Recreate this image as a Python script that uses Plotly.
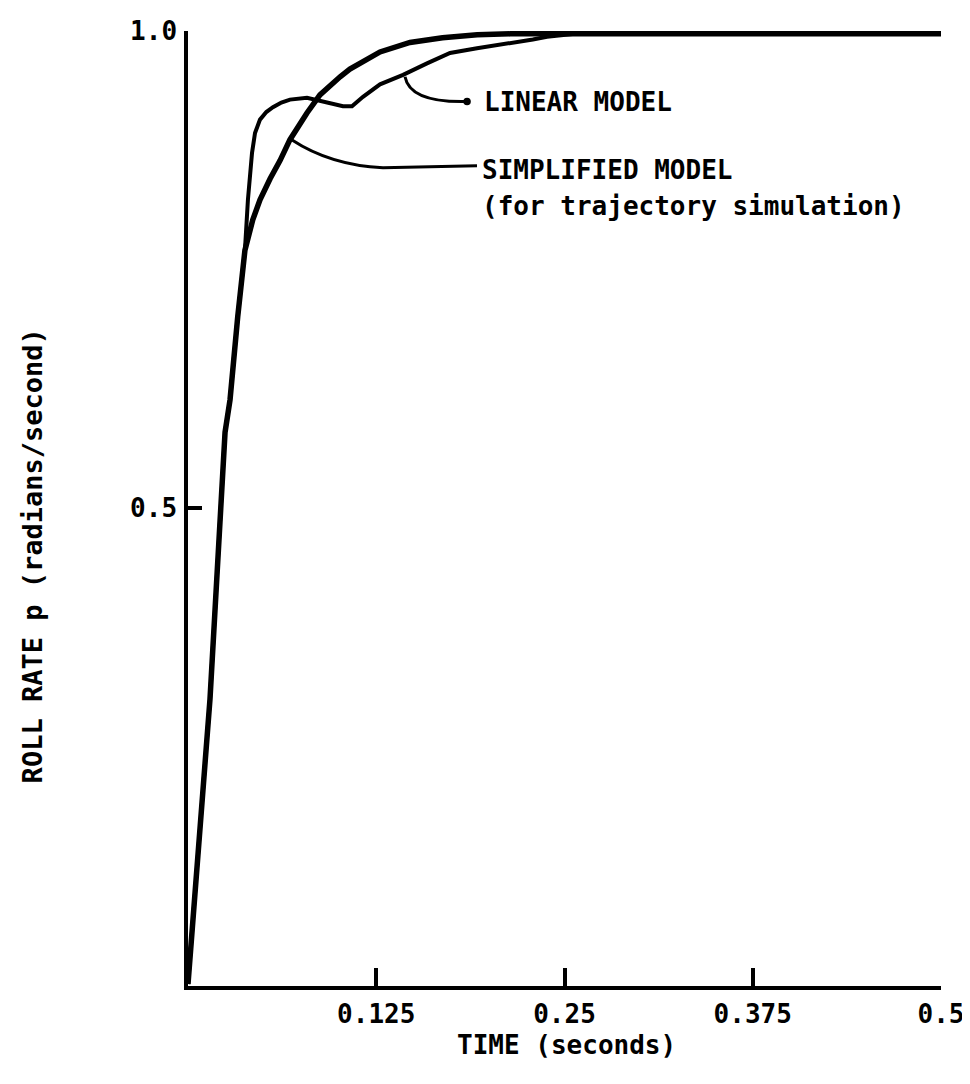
import plotly.graph_objects as go

# Time (s) and roll rate p (rad/s)
t_simplified = [0.0, 0.0146, 0.0246, 0.0279, 0.0330, 0.0378, 0.0430, 0.0478, 0.0545, 0.0611,
                0.0677, 0.0735, 0.079, 0.0876, 0.094, 0.101, 0.1075, 0.1142, 0.1275, 0.1474,
                0.169, 0.192, 0.214, 0.26, 0.35, 0.5]
p_simplified = [0.0, 0.299, 0.579, 0.613, 0.700, 0.770, 0.802, 0.823, 0.845, 0.864,
                0.886, 0.901, 0.914, 0.933, 0.943, 0.952, 0.960, 0.966, 0.978, 0.988,
                0.993, 0.996, 0.997, 0.997, 0.997, 0.997]

t_linear = [0.0, 0.0146, 0.0246, 0.0279, 0.0330, 0.0378, 0.0398, 0.0425, 0.0445, 0.0478,
            0.0520, 0.0564, 0.0620, 0.0677, 0.079, 0.0896, 0.1029, 0.1089, 0.1162, 0.1275,
            0.1428, 0.1587, 0.174, 0.1919, 0.2138, 0.229, 0.2384, 0.257, 0.35, 0.5]
p_linear = [0.0, 0.299, 0.579, 0.613, 0.700, 0.770, 0.823, 0.872, 0.893, 0.907,
            0.915, 0.920, 0.925, 0.928, 0.930, 0.926, 0.921, 0.921, 0.931, 0.944,
            0.954, 0.966, 0.977, 0.982, 0.987, 0.991, 0.994, 0.997, 0.997, 0.997]

x_tickvals = [0.125, 0.25, 0.375, 0.5]
x_ticktext = ["0.125", "0.25", "0.375", "0.5"]
y_tickvals = [0.5, 1.0]
y_ticktext = ["0.5", "1.0"]

FONT = "DejaVu Sans Mono"
INK = "#000000"

fig = go.Figure()
fig.add_trace(go.Scatter(x=t_linear, y=p_linear, mode="lines", name="LINEAR MODEL",
                         line=dict(color=INK, width=4)))
fig.add_trace(go.Scatter(x=t_simplified, y=p_simplified, mode="lines", name="SIMPLIFIED MODEL",
                         line=dict(color=INK, width=5.5)))

# leader lines for the labels
fig.add_shape(type="path", xref="x", yref="y",
              path="M 0.1441,0.952 Q 0.1474,0.9245 0.1853,0.926",
              line=dict(color=INK, width=3))
fig.add_shape(type="path", xref="x", yref="y",
              path="M 0.0691,0.8857 Q 0.0943,0.8595 0.1295,0.8564 L 0.1919,0.8585",
              line=dict(color=INK, width=3))
fig.add_shape(type="circle", xref="x", yref="y",
              x0=0.1853 - 0.0025, x1=0.1853 + 0.0025, y0=0.926 - 0.004, y1=0.926 + 0.004,
              fillcolor=INK, line=dict(color=INK, width=0))

fig.add_annotation(x=0.1952, y=0.9256, xref="x", yref="y", text="LINEAR MODEL",
                   showarrow=False, xanchor="left", yanchor="middle",
                   font=dict(family=FONT, size=26, color=INK, weight="bold"))
fig.add_annotation(x=0.1939, y=0.8543, xref="x", yref="y", text="SIMPLIFIED MODEL",
                   showarrow=False, xanchor="left", yanchor="middle",
                   font=dict(family=FONT, size=26, color=INK, weight="bold"))
fig.add_annotation(x=0.1939, y=0.8166, xref="x", yref="y", text="(for trajectory simulation)",
                   showarrow=False, xanchor="left", yanchor="middle",
                   font=dict(family=FONT, size=26, color=INK, weight="bold"))

fig.add_annotation(x=-0.207, y=0.450, xref="paper", yref="paper",
                   text="ROLL RATE p (radians/second)", textangle=-90,
                   showarrow=False, xanchor="center", yanchor="middle",
                   font=dict(family=FONT, size=27, color=INK, weight="bold"))
fig.add_annotation(x=0.502, y=-0.062, xref="paper", yref="paper",
                   text="TIME (seconds)",
                   showarrow=False, xanchor="center", yanchor="middle",
                   font=dict(family=FONT, size=26, color=INK, weight="bold"))

# page body adds an 8px offset, so the figure is 8px smaller and shifted
fig.update_layout(
    width=962, height=1076,
    margin=dict(l=180, r=29, t=23, b=98, autoexpand=False),
    paper_bgcolor="white", plot_bgcolor="white",
    showlegend=False,
    font=dict(family=FONT, size=26, color=INK),
)
fig.update_xaxes(range=[0, 0.5], showgrid=False, zeroline=False, automargin=False,
                 showline=True, linecolor=INK, linewidth=3.5,
                 ticks="inside", ticklen=18, tickwidth=3.5, tickcolor=INK,
                 tickvals=x_tickvals, ticktext=x_ticktext,
                 tickfont=dict(family=FONT, size=26, color=INK, weight="bold"),
                 ticklabelstandoff=2)
fig.update_yaxes(range=[-0.002, 1.0], showgrid=False, zeroline=False, automargin=False,
                 showline=True, linecolor=INK, linewidth=3.5,
                 ticks="inside", ticklen=14, tickwidth=3.5, tickcolor=INK,
                 tickvals=y_tickvals, ticktext=y_ticktext,
                 tickfont=dict(family=FONT, size=26, color=INK, weight="bold"),
                 ticklabelstandoff=2)

fig.write_html("out.html")
